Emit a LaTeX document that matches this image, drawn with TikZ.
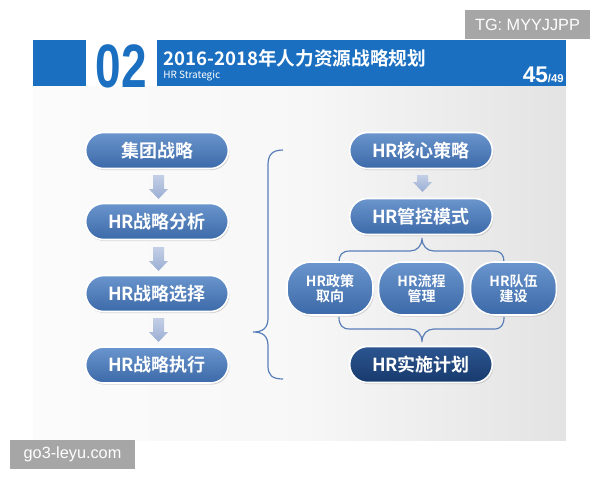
\documentclass[tikz,border=0pt]{standalone}
\usepackage{fontspec}
\usepackage{graphicx}
\setmainfont{Liberation Sans}
\newfontfamily\cjk{Noto Sans CJK SC}[BoldFont={Noto Sans CJK SC Bold}]
\usetikzlibrary{shadows}

\definecolor{hdrblue}{HTML}{1A6FC1}
\definecolor{nodetop}{HTML}{6A95CD}
\definecolor{nodebot}{HTML}{3C69A8}
\definecolor{plantop}{HTML}{2C5590}
\definecolor{planbot}{HTML}{173A6C}
\definecolor{arrowtop}{HTML}{C3CFE6}
\definecolor{arrowbot}{HTML}{9AAED3}
\definecolor{bracecol}{HTML}{5A7FB8}
\definecolor{markgray}{HTML}{A6A6A6}

\pgfdeclarehorizontalshading{slidebg}{100bp}{color(0bp)=(white); color(50bp)=(white!97!black); color(75bp)=(white!89!black); color(100bp)=(white!77!black)}

% block arrow pointing down: x, top y, tip y
\newcommand{\StepArrow}[3]{%
  \shade[top color=arrowtop, bottom color=arrowbot]
    (#1-5.5,#2) -- (#1+5.5,#2) -- (#1+5.5,#3-10) -- (#1+9.5,#3-10)
    -- (#1,#3) -- (#1-9.5,#3-10) -- (#1-5.5,#3-10) -- cycle;}

\begin{document}
\begin{tikzpicture}[x=0.75pt, y=-0.75pt,
    stepnode/.style={rounded corners=13.5pt, minimum width=107pt, minimum height=27pt,
      inner sep=0pt, top color=nodetop, bottom color=nodebot, draw=white, line width=1.2pt,
      drop shadow={shadow xshift=0.8pt, shadow yshift=-1.2pt, opacity=0.3},
      text=white, font=\cjk\bfseries\fontsize{13.5}{15}\selectfont},
    ovalnode/.style={stepnode, rounded corners=18pt, minimum width=64.5pt, minimum height=39.75pt,
      align=center, font=\cjk\bfseries\fontsize{10.5}{11.6}\selectfont},
    plannode/.style={stepnode, top color=plantop, bottom color=planbot},
    markbox/.style={fill=markgray, text=white, inner sep=0pt, minimum width=93.75pt,
      minimum height=21.75pt, font=\fontsize{12.2}{14}\selectfont},
    brace/.style={draw=bracecol, line width=0.9pt}]

    \useasboundingbox[fill=white] (0,0) rectangle (600,480);

    % slide and header
    \shade[shading=slidebg] (33,86) rectangle (566,440);
    \fill[hdrblue] (33,40) rectangle (86,86);
    \fill[hdrblue] (157,40) rectangle (566,86);
    \node[anchor=base, inner sep=0pt, text=hdrblue] (num) at (121.5,87)
        {\scalebox{0.75}[1]{\fontsize{46}{46}\selectfont\bfseries 02}};
    \node[anchor=base west, inner sep=0pt, text=white, font=\cjk\bfseries\fontsize{14}{16}\selectfont]
        (title) at (163,65) {2016-2018年人力资源战略规划};
    \node[anchor=base west, inner sep=0pt, text=white, font=\cjk\fontsize{7.5}{9}\selectfont]
        (sub) at (163,78) {HR Strategic};
    \node[anchor=base east, inner sep=0pt, text=white, font=\bfseries\fontsize{17}{18}\selectfont]
        (page) at (564,82) {45{\fontsize{8.5}{10}\selectfont/49}};

    % braces
    \draw[brace] (283,150) .. controls (272,150) and (268,155) .. (268,165) -- (268,318)
        .. controls (268,328) and (263,332) .. (253,332) .. controls (263,332) and (268,336) .. (268,346)
        -- (268,366) .. controls (268,375) and (272,379) .. (283,379);
    \draw[brace] (339,262) .. controls (339,255) and (342,251) .. (350,251) -- (410,251)
        .. controls (417,251) and (422,246) .. (422,238) .. controls (422,246) and (427,251) .. (434,251)
        -- (494,251) .. controls (501,251) and (504,255) .. (504,262);
    \draw[brace] (339,317) .. controls (339,325) and (342,329) .. (350,329) -- (410,329)
        .. controls (417,329) and (422,334) .. (422,342) .. controls (422,334) and (427,329) .. (434,329)
        -- (494,329) .. controls (501,329) and (504,325) .. (504,317);

    % left column
    \node[stepnode] (strat) at (157,150.5) {集团战略};
    \node[stepnode] (anal) at (157,221.5) {HR战略分析};
    \node[stepnode] (choice) at (157,293.5) {HR战略选择};
    \node[stepnode] (exec) at (157,365) {HR战略执行};
    \StepArrow{158.5}{175}{199}
    \StepArrow{158.5}{247}{271}
    \StepArrow{158.5}{318}{342}

    % right column
    \node[stepnode] (core) at (421,150.5) {HR核心策略};
    \node[stepnode] (ctl) at (421,216.5) {HR管控模式};
    \node[ovalnode] (pol) at (330,288.5) {HR政策\\取向};
    \node[ovalnode] (flow) at (421.5,288.5) {HR流程\\管理};
    \node[ovalnode] (team) at (513.5,288.5) {HR队伍\\建设};
    \node[plannode] (plan) at (421,364.5) {HR实施计划};
    \StepArrow{422.5}{175}{192}

    % marks
    \node[markbox] (tg) at (527.5,24.5) {TG: MYYJJPP};
    \node[markbox] (site) at (72.5,454.5) {go3-leyu.com};

\end{tikzpicture}
\end{document}
